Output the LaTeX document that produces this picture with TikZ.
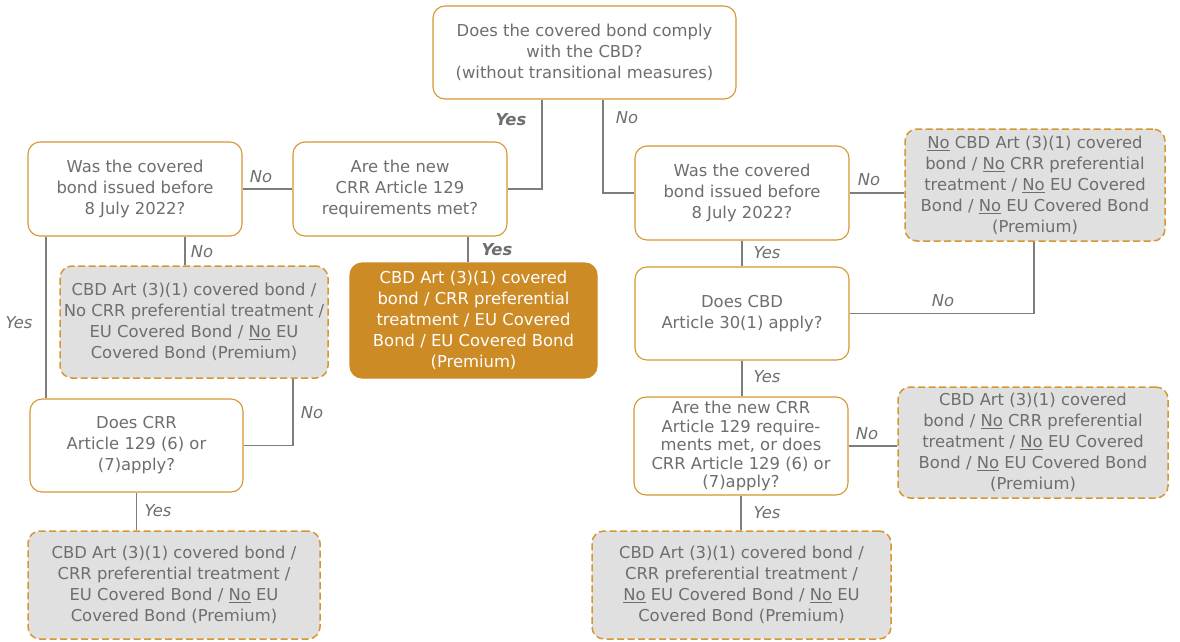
\documentclass[tikz,border=0pt]{standalone}
\usepackage{fontspec}
\setmainfont{DejaVu Sans}
\definecolor{gold}{RGB}{205,139,38}
\definecolor{boxline}{RGB}{214,150,50}
\definecolor{txt}{RGB}{110,110,110}
\definecolor{lgrey}{RGB}{224,224,224}
\definecolor{conn}{RGB}{125,125,125}
\begin{document}
\begin{tikzpicture}[x=1pt,y=-1pt,
  every node/.style={font=\fontsize{16.4}{21}\selectfont, text=txt},
  qbox/.style={draw=boxline, line width=1.1pt, rounded corners=12pt, fill=white, align=center, inner sep=0pt},
  rbox/.style={draw=boxline, line width=1.5pt, dash pattern=on 7pt off 3.5pt, rounded corners=12pt, fill=lgrey, align=center, inner sep=0pt},
  gbox/.style={draw=gold, line width=1.1pt, rounded corners=12pt, fill=gold, text=white, align=center, inner sep=0pt},
  conn/.style={draw=conn, line width=1.1pt},
  lab/.style={font=\fontsize{16.4}{21}\selectfont\itshape, text=txt, inner sep=0pt},
  blab/.style={font=\fontsize{16.4}{21}\selectfont\itshape\bfseries, text=txt, inner sep=0pt}
]
\useasboundingbox (0,0) rectangle (1180,642);

% Question boxes
\node[qbox, minimum width=303pt, minimum height=93pt] (T) at (584.5,52.5)
  {Does the covered bond comply\\with the CBD?\\(without transitional measures)};
\node[qbox, minimum width=214pt, minimum height=94pt] (A) at (135,189)
  {Was the covered\\bond issued before\\8 July 2022?};
\node[qbox, minimum width=214pt, minimum height=94pt] (B) at (400,189)
  {Are the new\\CRR Article 129\\requirements met?};
\node[qbox, minimum width=213pt, minimum height=93pt] (C) at (136.5,445.5)
  {Does CRR\\Article 129 (6) or\\(7)apply?};
\node[qbox, minimum width=214pt, minimum height=94pt] (D) at (742,193)
  {Was the covered\\bond issued before\\8 July 2022?};
\node[qbox, minimum width=214pt, minimum height=93pt] (E) at (742,313.5)
  {Does CBD\\Article 30(1) apply?};
\node[qbox, minimum width=214pt, minimum height=98pt, font=\fontsize{16.4}{18.5}\selectfont] (F) at (741,446)
  {Are the new CRR\\Article 129 require-\\ments met, or does\\CRR Article 129 (6) or\\(7)apply?};

% Result boxes
\node[gbox, minimum width=247pt, minimum height=115pt] (G) at (473.5,320.5)
  {CBD Art (3)(1) covered\\bond / CRR preferential\\treatment / EU Covered\\Bond / EU Covered Bond\\(Premium)};
\node[rbox, minimum width=268pt, minimum height=112pt] (L1) at (194,322)
  {CBD Art (3)(1) covered bond /\\No CRR preferential treatment /\\EU Covered Bond / \underline{No} EU\\Covered Bond (Premium)};
\node[rbox, minimum width=292pt, minimum height=108pt] (L2) at (174,585)
  {CBD Art (3)(1) covered bond /\\CRR preferential treatment /\\EU Covered Bond / \underline{No} EU\\Covered Bond (Premium)};
\node[rbox, minimum width=260pt, minimum height=112pt] (R1) at (1035,185)
  {\underline{No} CBD Art (3)(1) covered\\bond / \underline{No} CRR preferential\\treatment / \underline{No} EU Covered\\Bond / \underline{No} EU Covered Bond\\(Premium)};
\node[rbox, minimum width=270pt, minimum height=111pt] (R2) at (1033,442.5)
  {CBD Art (3)(1) covered\\bond / \underline{No} CRR preferential\\treatment / \underline{No} EU Covered\\Bond / \underline{No} EU Covered Bond\\(Premium)};
\node[rbox, minimum width=299pt, minimum height=108pt] (R3) at (741.5,585)
  {CBD Art (3)(1) covered bond /\\CRR preferential treatment /\\\underline{No} EU Covered Bond / \underline{No} EU\\Covered Bond (Premium)};

% Connectors
\draw[conn] ([xshift=-42.5]T.south) |- (B.east);
\draw[conn] ([xshift=18.5]T.south) |- (D.west);
\draw[conn] (B.west) -- (A.east);
\draw[conn] ([xshift=68]B.south) -- ([xshift=-5.5]G.north);
\draw[conn] ([xshift=50]A.south) -- ([xshift=-9]L1.north);
\draw[conn] ([xshift=-89]A.south) -- ([xshift=-89]A.south |- C.north);
\draw[conn] ([xshift=99]L1.south) |- (C.east);
\draw[conn] (C.south) -- (C.south |- L2.north);
\draw[conn] (D.east) -- (D.east -| R1.west);
\draw[conn] (D.south) -- (E.north);
\draw[conn] (E.east) -| ([xshift=-1]R1.south);
\draw[conn] (E.south) -- (E.south |- F.north);
\draw[conn] (F.east) -- (F.east -| R2.west);
\draw[conn] (F.south) -- (F.south |- R3.north);

% Labels
\node[blab] (l1) at (511,120) {Yes};
\node[lab] (l2) at (627,118) {No};
\node[lab] (l3) at (261,177) {No};
\node[blab] (l4) at (497,250) {Yes};
\node[lab] (l5) at (202,252) {No};
\node[lab] (l6) at (19,323) {Yes};
\node[lab] (l7) at (312,413) {No};
\node[lab] (l8) at (158,511) {Yes};
\node[lab] (l9) at (869,180) {No};
\node[lab] (l10) at (767,253) {Yes};
\node[lab] (l11) at (943,301) {No};
\node[lab] (l12) at (767,377) {Yes};
\node[lab] (l13) at (867,434) {No};
\node[lab] (l14) at (767,513) {Yes};
\end{tikzpicture}
\end{document}
